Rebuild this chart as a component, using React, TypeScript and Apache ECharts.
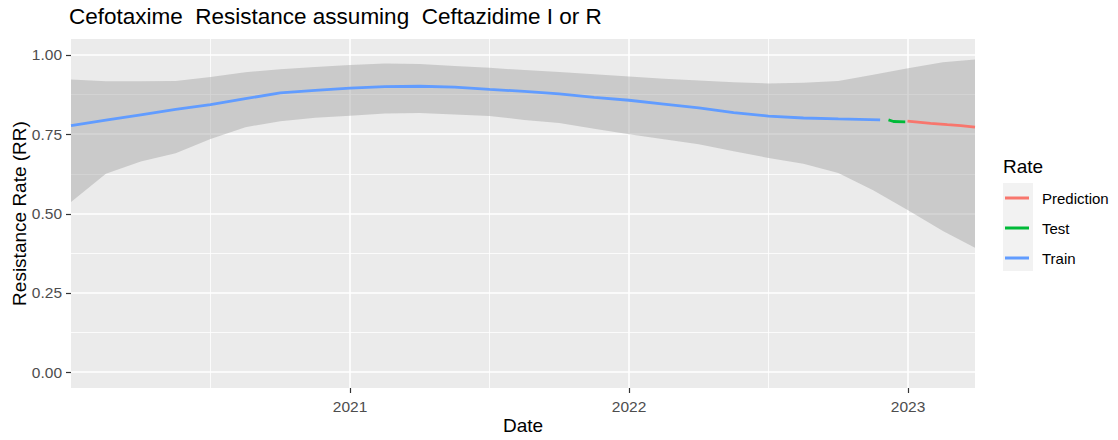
import React, { useEffect, useRef } from "react";
import * as echarts from "echarts";

// Dates as decimal years
const trainX = [2020.0, 2020.125, 2020.25, 2020.375, 2020.5, 2020.625, 2020.75, 2020.875, 2021.0, 2021.125, 2021.25, 2021.375, 2021.5, 2021.625, 2021.75, 2021.875, 2022.0, 2022.125, 2022.25, 2022.375, 2022.5, 2022.625, 2022.75, 2022.9];
const trainY = [0.777, 0.794, 0.811, 0.828, 0.843, 0.862, 0.880, 0.888, 0.895, 0.900, 0.901, 0.898, 0.891, 0.885, 0.877, 0.866, 0.857, 0.845, 0.833, 0.818, 0.807, 0.801, 0.798, 0.795];

const testX = [2022.93, 2022.948, 2022.99];
const testY = [0.795, 0.790, 0.789];

const predX = [2022.998, 2023.081, 2023.141, 2023.189, 2023.24];
const predY = [0.791, 0.784, 0.780, 0.777, 0.772];

const ribbonX = [2020.0, 2020.125, 2020.25, 2020.375, 2020.5, 2020.625, 2020.75, 2020.875, 2021.0, 2021.125, 2021.25, 2021.375, 2021.5, 2021.625, 2021.75, 2021.875, 2022.0, 2022.125, 2022.25, 2022.375, 2022.5, 2022.625, 2022.75, 2022.875, 2023.0, 2023.125, 2023.24];
const ribbonHi = [0.922, 0.917, 0.917, 0.918, 0.930, 0.945, 0.955, 0.962, 0.968, 0.973, 0.971, 0.965, 0.959, 0.952, 0.946, 0.939, 0.932, 0.925, 0.919, 0.914, 0.910, 0.912, 0.918, 0.937, 0.958, 0.977, 0.985];
const ribbonLo = [0.536, 0.625, 0.664, 0.690, 0.735, 0.772, 0.791, 0.802, 0.808, 0.815, 0.817, 0.812, 0.807, 0.795, 0.785, 0.767, 0.750, 0.734, 0.718, 0.696, 0.675, 0.657, 0.628, 0.573, 0.510, 0.445, 0.392];

const yTicks = [0, 0.25, 0.5, 0.75, 1.0];
const yMinor = [0.125, 0.375, 0.625, 0.875];
const xTicks = [2021, 2022, 2023];
const xMinor = [2020.5, 2021.5, 2022.5];

const X_MIN = 2020.0;
const X_MAX = 2023.24;
const Y_MIN = -0.05;
const Y_MAX = 1.05;

const legendNames = ["Prediction", "Test", "Train"];
const colors = { Prediction: "#F8766D", Test: "#00BA38", Train: "#619CFF" };

const FONT = "'Liberation Sans', Arial, sans-serif";
const TICK_LEN = 5;

const zip = (xs: number[], ys: number[]) => xs.map((x, i) => [x, ys[i]]);

export default function App() {
  const ref = useRef<HTMLDivElement>(null);
  useEffect(() => {
    if (!ref.current) return;
    const chart = echarts.init(ref.current, undefined, { renderer: "svg" });
    const ribbonData = ribbonX.map((x, i) => [x, ribbonLo[i], ribbonHi[i]]);
    const lineWidth = 2.8;
    const tickStroke = { stroke: "#333333", lineWidth: 1.2 };
    const option: any = {
      animation: false,
      backgroundColor: "#FFFFFF",
      title: [
        {
          text: "Cefotaxime  Resistance assuming  Ceftazidime I or R",
          left: 69,
          top: 5,
          padding: 0,
          textStyle: { fontFamily: FONT, fontSize: 22.5, fontWeight: "normal", color: "#000000" },
        },
        {
          text: "Rate",
          left: 1003,
          top: 157,
          padding: 0,
          textStyle: { fontFamily: FONT, fontSize: 19, fontWeight: "normal", color: "#000000" },
        },
      ],
      graphic: [
        {
          type: "rect",
          shape: { x: 1003, y: 183, width: 30, height: 88 },
          style: { fill: "#F2F2F2" },
          z: -1,
          silent: true,
        },
      ],
      legend: {
        data: legendNames,
        orient: "vertical",
        left: 1005,
        top: 188,
        padding: 0,
        itemWidth: 24,
        itemHeight: 3,
        itemGap: 10,
        icon: "rect",
        selectedMode: false,
        textStyle: { fontFamily: FONT, fontSize: 15, color: "#000000", lineHeight: 20, padding: [0, 0, 0, 8] },
      },
      grid: {
        left: 71,
        right: 143,
        top: 39,
        bottom: 52,
        backgroundColor: "#EBEBEB",
        show: true,
        borderWidth: 0,
        containLabel: false,
        outerBoundsMode: "none",
      },
      xAxis: [
        {
          type: "value",
          position: "bottom",
          min: X_MIN,
          max: X_MAX,
          name: "Date",
          nameLocation: "middle",
          nameGap: 28,
          nameMoveOverlap: false,
          nameTextStyle: { fontFamily: FONT, fontSize: 19, color: "#000000" },
          axisLine: { show: false, onZero: false },
          axisTick: { show: false, customValues: xTicks },
          axisLabel: {
            customValues: xTicks,
            margin: 10,
            fontFamily: FONT,
            fontSize: 15.5,
            color: "#4D4D4D",
            formatter: (v: number) => String(Math.round(v)),
          },
          splitLine: { show: true, lineStyle: { color: "#FFFFFF", width: 1.6 } },
        },
        {
          type: "value",
          position: "top",
          min: X_MIN,
          max: X_MAX,
          axisLine: { show: false, onZero: false },
          axisTick: { show: false, customValues: xMinor },
          axisLabel: { show: false, customValues: xMinor },
          splitLine: { show: true, lineStyle: { color: "#FFFFFF", width: 0.8 } },
        },
      ],
      yAxis: [
        {
          type: "value",
          position: "left",
          min: Y_MIN,
          max: Y_MAX,
          name: "Resistance Rate (RR)",
          nameLocation: "middle",
          nameRotate: 90,
          nameGap: 42,
          nameMoveOverlap: false,
          nameTextStyle: { fontFamily: FONT, fontSize: 19, color: "#000000" },
          axisLine: { show: false, onZero: false },
          axisTick: { show: false, customValues: yTicks },
          axisLabel: {
            customValues: yTicks,
            margin: 9,
            fontFamily: FONT,
            fontSize: 15.5,
            color: "#4D4D4D",
            formatter: (v: number) => v.toFixed(2),
          },
          splitLine: { show: true, lineStyle: { color: "#FFFFFF", width: 1.6 } },
        },
        {
          type: "value",
          position: "right",
          min: Y_MIN,
          max: Y_MAX,
          axisLine: { show: false, onZero: false },
          axisTick: { show: false, customValues: yMinor },
          axisLabel: { show: false, customValues: yMinor },
          splitLine: { show: true, lineStyle: { color: "#FFFFFF", width: 0.8 } },
        },
      ],
      series: [
        {
          type: "custom",
          name: "ribbon",
          xAxisIndex: 0,
          yAxisIndex: 0,
          silent: true,
          data: ribbonData,
          renderItem: (params: any, api: any) => {
            if (params.dataIndex !== 0) return null;
            const pts: number[][] = [];
            for (let i = 0; i < ribbonX.length; i++) pts.push(api.coord([ribbonX[i], ribbonHi[i]]));
            for (let i = ribbonX.length - 1; i >= 0; i--) pts.push(api.coord([ribbonX[i], ribbonLo[i]]));
            return { type: "polygon", shape: { points: pts }, style: { fill: "rgba(153,153,153,0.4)" } };
          },
          z: 1,
        },
        {
          type: "custom",
          name: "xTickMarks",
          xAxisIndex: 0,
          yAxisIndex: 0,
          silent: true,
          clip: false,
          data: xTicks.map((v) => [v, Y_MIN]),
          renderItem: (params: any, api: any) => {
            const p = api.coord([api.value(0), api.value(1)]);
            const x = Math.round(p[0]) + 0.5;
            const y = Math.round(p[1]);
            return {
              type: "line",
              shape: { x1: x, y1: y, x2: x, y2: y + TICK_LEN },
              style: tickStroke,
            };
          },
          z: 5,
        },
        {
          type: "custom",
          name: "yTickMarks",
          xAxisIndex: 0,
          yAxisIndex: 0,
          silent: true,
          clip: false,
          data: yTicks.map((v) => [X_MIN, v]),
          renderItem: (params: any, api: any) => {
            const p = api.coord([api.value(0), api.value(1)]);
            const x = Math.round(p[0]);
            const y = Math.round(p[1]) + 0.5;
            return {
              type: "line",
              shape: { x1: x - TICK_LEN, y1: y, x2: x, y2: y },
              style: tickStroke,
            };
          },
          z: 5,
        },
        {
          type: "line",
          name: "Prediction",
          data: zip(predX, predY),
          color: colors.Prediction,
          showSymbol: false,
          symbol: "none",
          lineStyle: { color: colors.Prediction, width: lineWidth },
          z: 3,
        },
        {
          type: "line",
          name: "Test",
          data: zip(testX, testY),
          color: colors.Test,
          showSymbol: false,
          symbol: "none",
          lineStyle: { color: colors.Test, width: lineWidth },
          z: 3,
        },
        {
          type: "line",
          name: "Train",
          data: zip(trainX, trainY),
          color: colors.Train,
          showSymbol: false,
          symbol: "none",
          lineStyle: { color: colors.Train, width: lineWidth },
          z: 3,
        },
      ],
    };
    chart.setOption(option);
    return () => chart.dispose();
  }, []);
  return (
    <div
      ref={ref}
      style={{ position: "absolute", left: 0, top: 0, width: 1118, height: 440, background: "#FFFFFF" }}
    />
  );
}
